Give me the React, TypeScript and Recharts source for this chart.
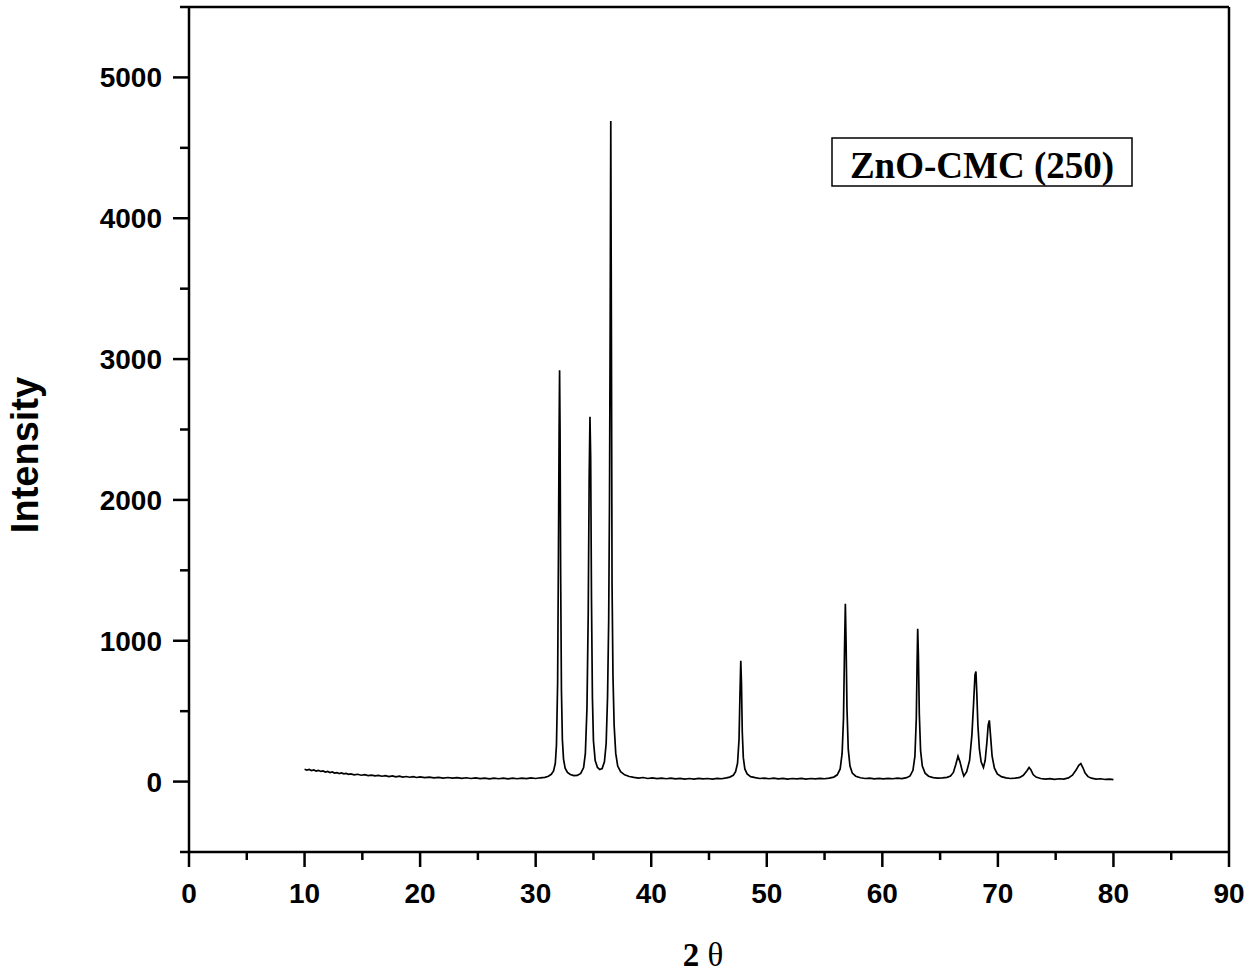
import { LineChart, Line, XAxis, YAxis, Customized } from 'recharts';

// 2θ / intensity pairs
const lowAngle: [number, number][] = [
  [10.0, 88], [10.2, 82], [10.4, 86], [10.6, 78], [10.8, 83], [11.0, 75], [11.2, 80], [11.4, 72],
  [11.6, 76], [11.8, 68], [12.0, 72], [12.2, 64], [12.4, 68], [12.6, 60], [12.8, 64], [13.0, 57],
  [13.2, 61], [13.4, 55], [13.6, 58], [13.8, 51], [14.0, 55], [14.3, 48], [14.6, 52], [14.9, 45],
  [15.2, 49], [15.5, 43], [15.8, 46], [16.1, 40], [16.4, 44], [16.7, 38], [17.0, 42], [17.3, 36],
  [17.6, 40], [17.9, 34], [18.2, 38], [18.5, 32], [18.8, 36], [19.1, 31], [19.4, 35], [19.7, 29],
  [20.0, 33], [20.4, 28], [20.8, 32], [21.2, 26], [21.6, 30], [22.0, 25], [22.4, 29], [22.8, 24],
  [23.2, 28], [23.6, 23], [24.0, 27], [24.4, 22], [24.8, 26], [25.2, 21], [25.6, 25], [26.0, 20],
  [26.4, 25], [26.8, 20], [27.2, 24], [27.6, 19], [28.0, 24], [28.4, 20], [28.8, 25], [29.2, 21],
  [29.6, 26], [30.0, 22], [30.4, 27], [30.8, 30], [31.1, 38], [31.35, 52],
];

const mainTriplet: [number, number][] = [
  [31.55, 75], [31.7, 130], [31.8, 260], [31.9, 700], [31.97, 1600], [32.03, 2500], [32.07, 2920],
  [32.11, 2500], [32.16, 1500], [32.23, 650], [32.31, 300], [32.41, 160], [32.55, 95], [32.75, 65],
  [33.0, 50], [33.3, 42], [33.6, 44], [33.9, 58], [34.15, 100], [34.3, 200], [34.44, 520],
  [34.55, 1200], [34.63, 2150], [34.7, 2590], [34.76, 2300], [34.83, 1300], [34.91, 600], [35.0, 290],
  [35.15, 150], [35.35, 100], [35.55, 85], [35.75, 92], [35.95, 140], [36.1, 270], [36.22, 600],
  [36.32, 1150], [36.39, 2000], [36.45, 3300], [36.5, 4690], [36.55, 3300], [36.61, 1400],
  [36.69, 750], [36.79, 400], [36.93, 200], [37.1, 110], [37.35, 70], [37.7, 48], [38.1, 36],
  [38.5, 30],
];

const midPeaks: [number, number][] = [
  [38.9, 25], [39.3, 29], [39.7, 22], [40.1, 26], [40.5, 21], [40.9, 25], [41.3, 20], [41.7, 24],
  [42.1, 19], [42.5, 23], [42.9, 18], [43.3, 22], [43.7, 18], [44.1, 23], [44.5, 19], [44.9, 22],
  [45.3, 18], [45.7, 23], [46.1, 20], [46.5, 26], [46.8, 32], [47.1, 45], [47.3, 70], [47.47, 130],
  [47.6, 300], [47.68, 620], [47.75, 858], [47.81, 700], [47.88, 350], [47.97, 170], [48.1, 90],
  [48.3, 55], [48.6, 35], [49.0, 28], [49.4, 22], [49.8, 25], [50.2, 20], [50.6, 24], [51.0, 19],
  [51.4, 23], [51.8, 18], [52.2, 22], [52.6, 19], [53.0, 23], [53.4, 18], [53.8, 22], [54.2, 19],
  [54.6, 23], [55.0, 20], [55.4, 25], [55.8, 32], [56.1, 48], [56.35, 90], [56.52, 200],
  [56.64, 450], [56.73, 950], [56.8, 1262], [56.86, 1000], [56.94, 520], [57.05, 230], [57.2, 110],
  [57.4, 60], [57.7, 38], [58.1, 27], [58.5, 22], [58.9, 25], [59.3, 19], [59.7, 23], [60.1, 19],
  [60.5, 23], [60.9, 20], [61.3, 24], [61.7, 21], [62.1, 28], [62.4, 40], [62.65, 80], [62.82, 180],
  [62.94, 450], [63.01, 850], [63.06, 1085], [63.12, 900], [63.2, 480], [63.31, 220], [63.46, 110],
  [63.7, 60], [64.0, 38], [64.4, 28], [64.8, 24],
];

const highPeaks: [number, number][] = [
  [65.2, 26], [65.6, 30], [65.9, 40], [66.15, 65], [66.35, 120], [66.55, 180], [66.72, 140],
  [66.9, 80], [67.05, 40], [67.3, 70], [67.55, 150], [67.75, 330], [67.9, 560], [68.02, 760],
  [68.1, 782], [68.17, 640], [68.27, 400], [68.4, 230], [68.55, 140], [68.75, 100], [68.9, 150],
  [69.05, 280], [69.16, 400], [69.26, 435], [69.36, 330], [69.5, 180], [69.7, 95], [69.95, 55],
  [70.3, 35], [70.7, 26], [71.1, 22], [71.5, 24], [71.9, 30], [72.2, 45], [72.5, 75], [72.7, 100],
  [72.85, 85], [73.05, 50], [73.3, 32], [73.7, 22], [74.1, 18], [74.5, 21], [74.9, 16], [75.3, 20],
  [75.7, 18], [76.1, 26], [76.45, 45], [76.75, 80], [77.0, 115], [77.18, 128], [77.35, 100],
  [77.55, 60], [77.8, 35], [78.1, 24], [78.5, 18], [78.9, 20], [79.3, 15], [79.7, 18], [80.0, 14],
];

const xTicks = [0, 5, 10, 15, 20, 25, 30, 35, 40, 45, 50, 55, 60, 65, 70, 75, 80, 85, 90];
const yTicks = [-500, 0, 500, 1000, 1500, 2000, 2500, 3000, 3500, 4000, 4500, 5000, 5500];
const sampleName = 'ZnO-CMC (250)';

const data = [...lowAngle, ...mainTriplet, ...midPeaks, ...highPeaks].map(([t, i]) => ({ t, i }));

const SANS = "'Liberation Sans', Arial, sans-serif";
const SERIF = "'Liberation Serif', 'Times New Roman', serif";

const XTick = (props: any) => {
  const { x, y, payload } = props;
  const major = payload.value % 10 === 0;
  return (
    <g>
      <line x1={x} x2={x} y1={y} y2={y + (major ? 15 : 8)} stroke="#000" strokeWidth={2.5} />
      {major && (
        <text x={x} y={y + 51} textAnchor="middle" fontFamily={SANS} fontWeight="bold" fontSize={28} fill="#000">
          {payload.value}
        </text>
      )}
    </g>
  );
};

const YTick = (props: any) => {
  const { x, y, payload } = props;
  const v = payload.value;
  const major = v % 1000 === 0;
  return (
    <g>
      <line x1={x - (major ? 16 : 9)} x2={x} y1={y} y2={y} stroke="#000" strokeWidth={2.5} />
      {major && v >= 0 && v <= 5000 && (
        <text x={x - 27} y={y + 10} textAnchor="end" fontFamily={SANS} fontWeight="bold" fontSize={28} fill="#000">
          {v}
        </text>
      )}
    </g>
  );
};

// frame top/right, sample label box, axis titles
const Overlay = () => (
  <g>
    <line x1={189} y1={7} x2={1229} y2={7} stroke="#000" strokeWidth={2.5} />
    <line x1={1229} y1={7} x2={1229} y2={852} stroke="#000" strokeWidth={2.5} />
    <rect x={832} y={138} width={300} height={48} fill="none" stroke="#000" strokeWidth={1.5} />
    <text x={982} y={178} textAnchor="middle" fontFamily={SERIF} fontWeight="bold" fontSize={37} fill="#000">
      {sampleName}
    </text>
    <text
      transform="translate(38, 455) rotate(-90)"
      textAnchor="middle"
      fontFamily={SANS}
      fontWeight="bold"
      fontSize={38}
      fill="#000"
    >
      Intensity
    </text>
    <text x={703} y={966} textAnchor="middle" fontFamily={SERIF} fontSize={33} fill="#000">
      <tspan fontWeight="bold">2</tspan>
      <tspan> θ</tspan>
    </text>
  </g>
);

export default function App() {
  return (
    <div style={{ position: 'absolute', left: 0, top: 0, background: '#fff' }}>
      <LineChart width={1250} height={973} data={data} margin={{ top: 7, right: 21, left: 0, bottom: 61 }}>
        <XAxis
          dataKey="t"
          type="number"
          domain={[0, 90]}
          ticks={xTicks}
          interval={0}
          height={60}
          tickSize={0}
          tickMargin={0}
          tickLine={false}
          tick={<XTick />}
          axisLine={{ stroke: '#000', strokeWidth: 2.5 }}
        />
        <YAxis
          type="number"
          domain={[-500, 5500]}
          ticks={yTicks}
          interval={0}
          width={189}
          tickSize={0}
          tickMargin={0}
          tickLine={false}
          tick={<YTick />}
          axisLine={{ stroke: '#000', strokeWidth: 2.5 }}
        />
        <Line
          type="linear"
          dataKey="i"
          stroke="#000"
          strokeWidth={1.7}
          dot={false}
          isAnimationActive={false}
        />
        <Customized component={<Overlay />} />
      </LineChart>
    </div>
  );
}
